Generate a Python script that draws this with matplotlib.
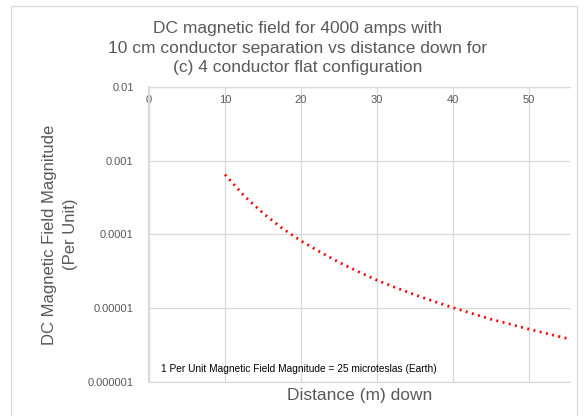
import matplotlib
matplotlib.use('Agg')
import matplotlib.pyplot as plt
from matplotlib.patches import Rectangle
from matplotlib.transforms import Affine2D

plt.rcParams['font.family'] = ['Liberation Sans', 'DejaVu Sans']

# distance down (m) and field magnitude (per unit)
distance = [10, 12.5, 15, 17.5, 20, 22.5, 25, 27.5, 30, 32.5, 35, 37.5,
            40, 42.5, 45, 47.5, 50, 52.5, 55]
field = [6.5e-4, 3.35e-4, 1.95e-4, 1.22e-4, 8.2e-5, 5.8e-5, 4.2e-5, 3.15e-5,
         2.4e-5, 1.9e-5, 1.52e-5, 1.24e-5, 1.02e-5, 8.5e-6, 7.1e-6, 6.1e-6,
         5.2e-6, 4.5e-6, 3.9e-6]

x_ticks = [0, 10, 20, 30, 40, 50]
y_ticks = [1e-6, 1e-5, 1e-4, 1e-3, 1e-2]
y_labels = ['0.000001', '0.00001', '0.0001', '0.001', '0.01']

GRID = '#d9d9d9'
TXT = '#595959'

fig = plt.figure(figsize=(5.84, 4.16), dpi=100)
ax = fig.add_axes([149 / 584, 1 - 382 / 416, (570 - 149) / 584, (382 - 87) / 416])

ax.plot(distance, field, color='red', linewidth=2.0,
        linestyle=(0, (0.7, 1.6)), dash_capstyle='butt')

ax.set_yscale('log')
ax.set_xlim(0, 55.4)
ax.set_ylim(1e-6, 1e-2)
ax.set_xticks(x_ticks)
ax.set_yticks(y_ticks)
ax.set_yticklabels(y_labels)
ax.minorticks_off()

ax.grid(True, color=GRID, linewidth=0.9)
ax.set_axisbelow(True)
for side in ['top', 'bottom', 'left']:
    ax.spines[side].set_color(GRID)
    ax.spines[side].set_linewidth(0.9)
ax.spines['right'].set_visible(False)
ax.spines['left'].set_linewidth(1.5)

ax.tick_params(axis='x', top=True, labeltop=True, bottom=False, labelbottom=False,
               length=0, pad=-13, labelsize=8, labelcolor=TXT)
ax.tick_params(axis='y', length=0, pad=11, labelsize=8, labelcolor=TXT)

ax.set_xlabel('Distance (m) down', fontsize=12.5, color=TXT, labelpad=4)
ax.set_ylabel('DC Magnetic Field Magnitude\n(Per Unit)', fontsize=12, color=TXT,
              labelpad=7, linespacing=1.5)

# note placed in pixel coords, origin top-left
ax.text(161, 369, '1 Per Unit Magnetic Field Magnitude = 25 microteslas (Earth)',
        transform=Affine2D().scale(1, -1).translate(0, 416),
        fontsize=7.3, color='black', va='center')

fig.text(298 / 584, 1 - 48 / 416,
         'DC magnetic field for 4000 amps with\n10 cm conductor separation vs distance down for\n(c) 4 conductor flat configuration',
         ha='center', va='center', fontsize=12.5, color=TXT, linespacing=1.35)

fig.patches.append(Rectangle((11 / 584, -0.02), (577 - 11) / 584, 1.02 - 6 / 416,
                             transform=fig.transFigure, fill=False,
                             edgecolor=GRID, linewidth=0.9))

fig.savefig('out.png', dpi=100)
